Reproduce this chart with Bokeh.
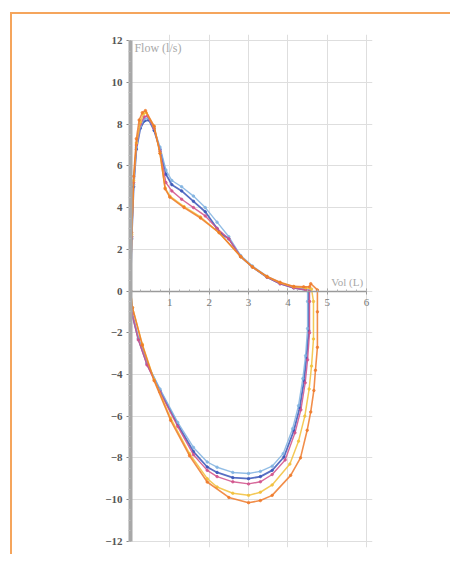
from bokeh.plotting import figure
from bokeh.models import Range1d, FixedTicker, Label
from bokeh.embed import file_html
from bokeh.resources import INLINE

# ---- data (volume L, flow l/s) ----
blue_v = [0, 0.03, 0.08, 0.15, 0.25, 0.35, 0.47, 0.6, 0.75, 0.9, 1.05, 1.3, 1.6, 1.9, 2.2, 2.3, 2.5, 2.8, 3.1, 3.47, 3.8, 4.15, 4.45, 4.53,
          4.53, 4.53, 4.47, 4.41, 4.3, 4.15, 3.9, 3.6, 3.3, 3.0, 2.6, 2.2, 1.95, 1.6, 1.2, 0.75, 0.42, 0.2, 0.04, 0]
blue_f = [0, 2.5, 5.0, 6.8, 7.8, 8.15, 8.2, 7.7, 6.8, 5.6, 5.1, 4.8, 4.3, 3.8, 3.0, 2.75, 2.5, 1.65, 1.15, 0.66, 0.35, 0.15, 0.05, 0.0,
          -0.5, -1.9, -3.2, -4.3, -5.6, -6.7, -7.96, -8.6, -8.9, -9.0, -8.95, -8.7, -8.44, -7.7, -6.4, -4.77, -3.5, -2.3, -1.1, 0]

lblue_v = [0, 0.03, 0.08, 0.15, 0.25, 0.35, 0.45, 0.6, 0.75, 0.9, 1.05, 1.3, 1.6, 1.9, 2.2, 2.5, 2.8, 3.1, 3.47, 3.8, 4.15, 4.45, 4.5,
           4.5, 4.5, 4.45, 4.38, 4.27, 4.12, 3.88, 3.6, 3.3, 3.0, 2.6, 2.2, 1.95, 1.6, 1.2, 0.75, 0.42, 0.2, 0.04, 0]
lblue_f = [0, 2.6, 5.1, 6.9, 7.9, 8.25, 8.3, 7.8, 6.9, 5.8, 5.3, 5.0, 4.55, 4.0, 3.3, 2.6, 1.7, 1.2, 0.7, 0.4, 0.18, 0.06, 0.0,
           -0.5, -1.8, -3.1, -4.2, -5.5, -6.6, -7.8, -8.4, -8.65, -8.75, -8.7, -8.45, -8.2, -7.5, -6.3, -4.7, -3.45, -2.25, -1.05, 0]

pink_v = [0, 0.03, 0.08, 0.15, 0.25, 0.35, 0.43, 0.6, 0.75, 0.9, 1.05, 1.3, 1.6, 1.9, 2.2, 2.5, 2.8, 3.1, 3.47, 3.8, 4.15, 4.45, 4.55,
          4.55, 4.55, 4.5, 4.44, 4.33, 4.18, 3.93, 3.6, 3.3, 3.0, 2.6, 2.2, 1.95, 1.6, 1.2, 0.75, 0.42, 0.2, 0.04, 0]
pink_f = [0, 2.6, 5.2, 7.0, 8.0, 8.35, 8.4, 7.8, 6.7, 5.2, 4.8, 4.4, 4.0, 3.6, 3.0, 2.5, 1.65, 1.15, 0.66, 0.35, 0.15, 0.05, 0.0,
          -0.5, -2.0, -3.3, -4.4, -5.7, -6.8, -8.1, -8.8, -9.15, -9.25, -9.15, -8.9, -8.6, -7.85, -6.5, -4.85, -3.55, -2.35, -1.1, 0]

yellow_v = [0, 0.03, 0.08, 0.15, 0.25, 0.33, 0.4, 0.6, 0.75, 0.88, 1.0, 1.36, 1.78, 2.25, 2.8, 3.1, 3.47, 3.8, 4.15, 4.45, 4.6,
            4.65, 4.65, 4.6, 4.54, 4.43, 4.27, 4.05, 3.6, 3.3, 3.0, 2.6, 2.2, 1.95, 1.5, 1.02, 0.6, 0.3, 0.05, 0]
yellow_f = [0, 2.7, 5.3, 7.1, 8.1, 8.5, 8.55, 7.9, 6.6, 4.95, 4.55, 4.05, 3.55, 2.8, 1.65, 1.15, 0.68, 0.4, 0.2, 0.15, 0.1,
            -0.5, -2.3, -3.6, -4.7, -6.0, -7.2, -8.3, -9.3, -9.65, -9.8, -9.7, -9.4, -9.0, -7.8, -6.1, -4.25, -2.55, -0.8, 0]

orange_v = [0, 0.03, 0.08, 0.15, 0.22, 0.3, 0.38, 0.6, 0.75, 0.88, 1.0, 1.36, 1.78, 2.25, 2.8, 3.1, 3.47, 3.8, 4.15, 4.4, 4.55, 4.58, 4.75,
            4.75, 4.75, 4.7, 4.66, 4.58, 4.49, 4.32, 4.07, 3.6, 3.3, 3.0, 2.5, 1.95, 1.5, 1.02, 0.6, 0.3, 0.05, 0]
orange_f = [0, 2.8, 5.5, 7.3, 8.2, 8.55, 8.65, 7.9, 6.6, 4.9, 4.5, 4.0, 3.5, 2.8, 1.65, 1.15, 0.7, 0.42, 0.22, 0.2, 0.2, 0.35, 0.05,
            -1.0, -2.7, -3.8, -4.77, -5.8, -6.68, -8.0, -8.84, -9.8, -10.05, -10.15, -9.9, -9.16, -7.9, -6.2, -4.3, -2.6, -0.8, 0]

series = [
    (blue_v, blue_f, "#3a56b8", 1.8),
    (lblue_v, lblue_f, "#7fb2e0", 1.4),
    (pink_v, pink_f, "#d0508a", 1.4),
    (yellow_v, yellow_f, "#f2bf3a", 1.5),
    (orange_v, orange_f, "#ef7a2a", 1.6),
]

x_ticks = [1, 2, 3, 4, 5, 6]
x_grid = [0, 1, 2, 3, 4, 5, 6]
y_ticks = [-12, -10, -8, -6, -4, -2, 0, 2, 4, 6, 8, 10, 12]

p = figure(width=440, height=542, output_backend="svg", toolbar_location=None,
           x_range=Range1d(0, 6.15), y_range=Range1d(-12.3, 12.3),
           min_border_left=118, min_border_right=80, min_border_top=20, min_border_bottom=9,
           outline_line_color=None, background_fill_color="white", border_fill_color="white")
p.margin = (12, 0, 0, 10)
p.styles = {"border-top": "2px solid #f5a55c", "border-left": "2px solid #f5a55c"}

# grid
p.xgrid.ticker = FixedTicker(ticks=x_grid)
p.ygrid.ticker = FixedTicker(ticks=y_ticks)
p.grid.grid_line_color = "#dedede"
p.grid.grid_line_width = 1
p.grid.minor_grid_line_color = None

# x axis drawn at y = 0
xa = p.xaxis[0]
xa.fixed_location = 0
xa.ticker = FixedTicker(ticks=x_ticks, minor_ticks=[i * 0.25 for i in range(1, 25)])
xa.bounds = (0, 6)
xa.axis_line_color = "#9a9a9a"
xa.axis_line_width = 1.5
xa.major_tick_line_color = "#9a9a9a"
xa.major_tick_in = 3
xa.major_tick_out = 3
xa.minor_tick_line_color = "#b0b0b0"
xa.minor_tick_in = 2
xa.minor_tick_out = 0
xa.major_label_text_font = "Liberation Serif"
xa.major_label_text_font_size = "11px"
xa.major_label_text_color = "#777777"
xa.major_label_standoff = 5

# y axis at x = 0
ya = p.yaxis[0]
ya.ticker = FixedTicker(ticks=y_ticks, minor_ticks=[i * 0.5 for i in range(-24, 25)])
ya.bounds = (-12, 12)
ya.axis_line_color = "#a8a8a8"
ya.axis_line_width = 4
ya.major_tick_line_color = "#888888"
ya.major_tick_in = 0
ya.major_tick_out = 4
ya.minor_tick_line_color = "#bbbbbb"
ya.minor_tick_in = 0
ya.minor_tick_out = 2
ya.major_label_text_font = "Liberation Serif"
ya.major_label_text_font_style = "bold"
ya.major_label_text_font_size = "11px"
ya.major_label_text_color = "#555555"
ya.major_label_standoff = 4

for xs, ys, col, lw in series:
    p.line(xs, ys, line_color=col, line_width=lw, line_alpha=0.85)
    p.scatter(xs, ys, size=2.5, color=col, alpha=0.75)

p.add_layout(Label(x=0.1, y=11.65, text="Flow (l/s)", text_font="Liberation Serif",
                   text_font_size="12px", text_color="#a8a8a8", text_baseline="middle"))
p.add_layout(Label(x=5.1, y=0.45, text="Vol (L)", text_font="Liberation Serif",
                   text_font_size="11px", text_color="#a8a8a8", text_baseline="middle"))

open("out.html", "w").write(file_html(p, INLINE))
